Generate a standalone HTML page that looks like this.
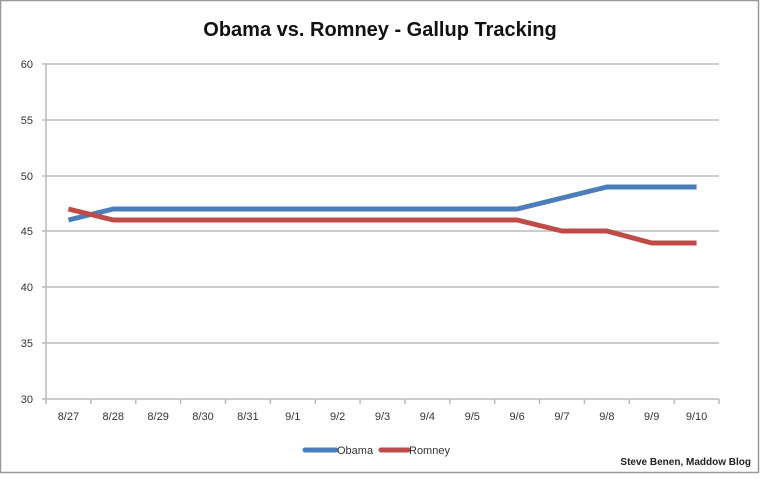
<!DOCTYPE html>
<html><head><meta charset="utf-8"><style>
html,body{margin:0;padding:0;background:#fff;}
</style></head><body>
<svg width="760" height="474" xmlns="http://www.w3.org/2000/svg" font-family="Liberation Sans, sans-serif">
<rect x="0.5" y="0.5" width="758" height="472" fill="#fff" stroke="#999" stroke-width="1.5"/>
<text x="380" y="36" text-anchor="middle" font-size="20" font-weight="bold" fill="#111">Obama vs. Romney - Gallup Tracking</text>
<g stroke="#bbb" stroke-width="1.5">
<line x1="42" y1="64" x2="719" y2="64"/>
<line x1="42" y1="120" x2="719" y2="120"/>
<line x1="42" y1="176" x2="719" y2="176"/>
<line x1="42" y1="231" x2="719" y2="231"/>
<line x1="42" y1="287" x2="719" y2="287"/>
<line x1="42" y1="343" x2="719" y2="343"/>
<line x1="42" y1="399" x2="719" y2="399"/>
<line x1="46" y1="64" x2="46" y2="399"/>
</g>
<g stroke="#bbb" stroke-width="1.5" id="ticks"></g>
<g font-size="11" fill="#333" text-anchor="end">
<text x="33" y="68">60</text><text x="33" y="124">55</text><text x="33" y="180">50</text>
<text x="33" y="235">45</text><text x="33" y="291">40</text><text x="33" y="347">35</text><text x="33" y="403">30</text>
</g>
<g font-size="11" fill="#333" text-anchor="middle" id="xl"></g>
<polyline fill="none" stroke="#4a7ebb" stroke-width="5" stroke-linejoin="round" points="68.4,220 113.3,209 158.2,209 203,209 247.9,209 292.8,209 337.6,209 382.5,209 427.4,209 472.2,209 517.1,209 562,198 606.8,187 651.7,187 696.6,187"/>
<polyline fill="none" stroke="#be4b48" stroke-width="5" stroke-linejoin="round" points="68.4,209 113.3,220 158.2,220 203,220 247.9,220 292.8,220 337.6,220 382.5,220 427.4,220 472.2,220 517.1,220 562,231 606.8,231 651.7,243 696.6,243"/>
<line x1="305" y1="450" x2="336" y2="450" stroke="#4a7ebb" stroke-width="5" stroke-linecap="round"/>
<text x="337" y="454" font-size="11" fill="#333">Obama</text>
<line x1="381" y1="450" x2="408" y2="450" stroke="#be4b48" stroke-width="5" stroke-linecap="round"/>
<text x="409" y="454" font-size="11" fill="#333">Romney</text>
<text x="751" y="465" text-anchor="end" font-size="10" font-weight="bold" fill="#222">Steve Benen, Maddow Blog</text>
<script>
var l=["8/27","8/28","8/29","8/30","8/31","9/1","9/2","9/3","9/4","9/5","9/6","9/7","9/8","9/9","9/10"];
var t=document.getElementById("ticks"),x=document.getElementById("xl"),ns="http://www.w3.org/2000/svg";
for(var i=0;i<=15;i++){var e=document.createElementNS(ns,"line");var px=46+i*44.87;e.setAttribute("x1",px);e.setAttribute("x2",px);e.setAttribute("y1",399);e.setAttribute("y2",404);t.appendChild(e);}
for(var i=0;i<15;i++){var s=document.createElementNS(ns,"text");s.setAttribute("x",68.4+i*44.87);s.setAttribute("y",420);s.textContent=l[i];x.appendChild(s);}
</script>
</svg>
</body></html>
